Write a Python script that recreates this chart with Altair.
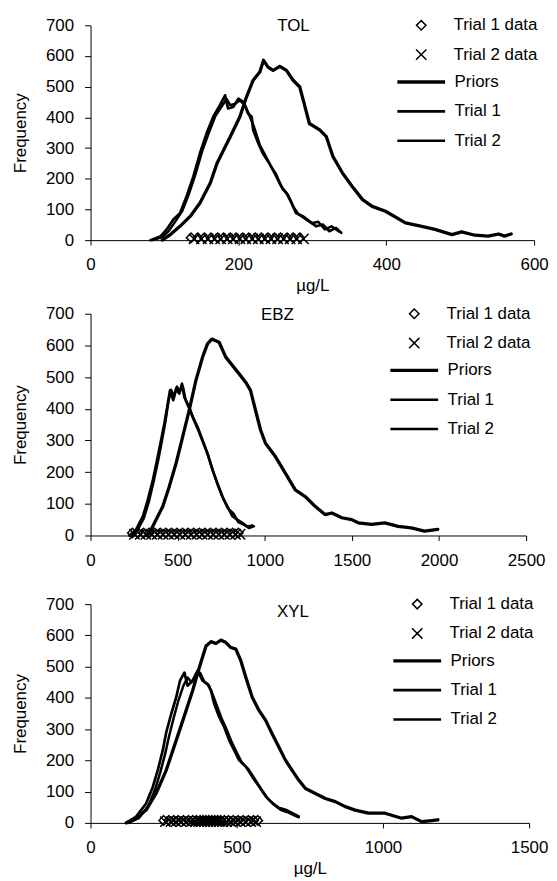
import altair as alt
import pandas as pd

FONT = "Liberation Sans"
PT_SERIES = ["Trial 1 data", "Trial 2 data"]
PT_SHAPES = ["M0,-1L1,0L0,1L-1,0Z", "M-1.1,-1.1L1.1,1.1M-1.1,1.1L1.1,-1.1"]
LN_SERIES = ["Priors", "Trial 1", "Trial 2"]
LN_WIDTHS = [3.3, 2.7, 2.5]

# ---------------- TOL ----------------
tol_prior_x = [97, 108, 121, 135, 148, 162, 171, 180, 189, 202, 211, 220, 229, 234, 240, 247, 256, 265, 274, 283,
               289, 296, 310, 319, 328, 341, 354, 368, 381, 399, 426, 448, 466, 489, 502, 520, 538, 552, 560, 569]
tol_prior_y = [0, 18, 45, 78, 121, 186, 250, 294, 337, 402, 467, 521, 548, 586, 564, 553, 566, 553, 521, 499,
               445, 380, 359, 337, 272, 218, 175, 132, 110, 94, 56, 45, 35, 18, 27, 16, 13, 20, 13, 20]
tol_t1_x = [81, 95, 103, 112, 121, 130, 139, 148, 157, 166, 175, 182, 186, 193, 200, 207, 213, 218, 220, 227,
            233, 242, 249, 258, 265, 272, 278, 287, 296, 305, 314, 323, 332, 339]
tol_t1_y = [0, 13, 35, 67, 88, 143, 207, 283, 348, 402, 440, 472, 429, 434, 461, 450, 413, 402, 359, 315,
            283, 250, 218, 175, 153, 121, 88, 78, 62, 45, 51, 29, 40, 24]
tol_t2_x = [84, 97, 106, 115, 124, 133, 142, 151, 160, 169, 178, 184, 189, 196, 202, 209, 215, 221, 229, 236,
            244, 251, 260, 267, 274, 281, 290, 299, 308, 317, 326, 336]
tol_t2_y = [0, 10, 30, 62, 95, 150, 215, 290, 350, 405, 438, 460, 440, 445, 455, 440, 405, 370, 310, 278,
            240, 215, 165, 148, 110, 85, 70, 55, 60, 35, 45, 28]
tol_d1 = [136, 145, 154, 163, 172, 180, 189, 197, 206, 214, 223, 231, 240, 249, 257, 266, 274, 283]
tol_d2 = [140, 150, 159, 168, 176, 185, 193, 202, 210, 219, 227, 236, 244, 253, 261, 270, 279, 288]

# ---------------- EBZ ----------------
ebz_prior_x = [320, 338, 376, 415, 452, 491, 529, 566, 605, 643, 671, 696, 738, 776, 814, 852, 890, 918, 947, 976,
               1004, 1061, 1118, 1175, 1232, 1289, 1346, 1385, 1442, 1499, 1536, 1613, 1689, 1765, 1841, 1917, 1993]
ebz_prior_y = [0, 8, 50, 92, 155, 228, 312, 395, 490, 563, 605, 620, 610, 563, 537, 511, 484, 458, 395, 333,
               291, 249, 197, 144, 123, 92, 66, 71, 56, 50, 40, 35, 40, 29, 24, 14, 19]
ebz_t1_x = [224, 262, 301, 329, 358, 386, 405, 424, 443, 456, 475, 491, 509, 525, 538, 563, 586, 614, 643, 671,
            700, 728, 757, 785, 814, 842, 871, 909, 937]
ebz_t1_y = [0, 19, 61, 113, 176, 249, 301, 354, 416, 458, 427, 464, 448, 479, 437, 406, 375, 343, 301, 260,
            207, 165, 123, 92, 61, 50, 40, 24, 29]
ebz_t2_x = [235, 268, 306, 334, 362, 391, 410, 430, 448, 462, 480, 496, 512, 530, 545, 570, 592, 620, 648, 676,
            705, 733, 762, 790, 820, 848, 876, 900, 928]
ebz_t2_y = [0, 15, 55, 105, 170, 245, 300, 360, 425, 460, 440, 470, 455, 470, 430, 400, 365, 330, 290, 250,
            200, 155, 115, 85, 70, 42, 35, 28, 32]
ebz_d1 = [240, 272, 304, 336, 368, 400, 432, 464, 496, 528, 560, 592, 624, 656, 688, 720, 752, 784, 816, 848]
ebz_d2 = [252, 285, 318, 350, 383, 416, 448, 480, 512, 545, 578, 610, 640, 672, 705, 736, 768, 800, 832, 858]

# ---------------- XYL ----------------
xyl_prior_x = [122, 156, 190, 224, 259, 293, 327, 349, 372, 395, 412, 429, 446, 463, 480, 497, 514, 531, 553, 576,
               599, 621, 644, 667, 689, 712, 735, 769, 803, 837, 871, 905, 950, 1007, 1064, 1098, 1132, 1166, 1188]
xyl_prior_y = [0, 15, 41, 94, 169, 264, 360, 423, 497, 566, 580, 574, 585, 577, 561, 556, 519, 466, 402, 360,
               328, 285, 243, 200, 169, 137, 110, 94, 78, 68, 52, 41, 31, 31, 15, 20, 4, 7, 10]
xyl_t1_x = [122, 156, 190, 213, 230, 247, 259, 276, 293, 306, 321, 332, 349, 366, 383, 400, 412, 423, 440, 457,
            474, 491, 508, 531, 553, 576, 599, 621, 644, 667, 689, 712]
xyl_t1_y = [0, 20, 62, 115, 169, 232, 290, 349, 402, 455, 481, 439, 455, 487, 455, 445, 423, 381, 339, 307,
            265, 233, 201, 180, 148, 117, 85, 64, 48, 42, 32, 21]
xyl_t2_x = [130, 165, 198, 220, 238, 255, 268, 284, 300, 318, 332, 345, 360, 375, 390, 405, 418, 432, 448, 465,
            482, 500, 518, 540, 562, 584, 606, 628, 650, 672, 695, 712]
xyl_t2_y = [0, 15, 55, 105, 160, 220, 275, 335, 390, 440, 465, 450, 470, 480, 450, 440, 410, 375, 335, 300,
            260, 225, 192, 172, 140, 108, 78, 58, 42, 35, 25, 18]
xyl_d1 = [250, 268, 285, 300, 318, 335, 350, 362, 375, 385, 395, 405, 415, 425, 435, 445, 458, 472, 488, 505,
          522, 540, 558, 572]
xyl_d2 = [256, 275, 292, 310, 328, 345, 358, 370, 380, 390, 400, 410, 420, 430, 440, 452, 465, 480, 495, 512,
          530, 548, 565]

DATA_Y1 = 8
DATA_Y2 = 4


def lines_frame(px, py, t1x, t1y, t2x, t2y):
    rows = []
    for name, xs, ys in (("Priors", px, py), ("Trial 1", t1x, t1y), ("Trial 2", t2x, t2y)):
        for i, (a, b) in enumerate(zip(xs, ys)):
            rows.append({"x": a, "y": b, "series": name, "order": i})
    return pd.DataFrame(rows)


def points_frame(d1, d2):
    rows = [{"x": a, "y": DATA_Y1, "series": "Trial 1 data"} for a in d1]
    rows += [{"x": a, "y": DATA_Y2, "series": "Trial 2 data"} for a in d2]
    return pd.DataFrame(rows)


def legend_params(legx, legy, size, offset, **kw):
    return alt.Legend(
        title=None, orient="none", legendX=legx, legendY=legy,
        symbolSize=size, labelFont=FONT, labelFontSize=17, labelColor="black",
        labelOffset=offset, rowPadding=11.5, padding=0,
        symbolStrokeColor="black", symbolFillColor="transparent", **kw
    )


def panel(name, ldf, pdf, xmax, xstep, w, h, xtitle, tdx, toff, legx):
    xs = alt.Scale(domain=[0, xmax], nice=False)
    ys = alt.Scale(domain=[0, 700], nice=False)
    xaxis = alt.Axis(values=list(range(0, xmax + 1, xstep)), title=xtitle, tickSize=5, format="d",
                     labelPadding=12, titlePadding=5, labelFlush=False, labelOverlap=False)
    yaxis = alt.Axis(values=list(range(0, 701, 100)), title="Frequency", tickSize=6, format="d",
                     labelPadding=11, titlePadding=16, labelOverlap=False)
    lines = alt.Chart(ldf).mark_line(color="black", strokeJoin="round", strokeCap="round").encode(
        x=alt.X("x:Q", scale=xs, axis=xaxis),
        y=alt.Y("y:Q", scale=ys, axis=yaxis),
        order="order:Q",
        strokeWidth=alt.StrokeWidth(
            "series:N", scale=alt.Scale(type="ordinal", domain=LN_SERIES, range=LN_WIDTHS),
            legend=legend_params(legx, 48.5, 64, 25, symbolType="M-6,0H6")),
    )
    pts = alt.Chart(pdf).mark_point(filled=False, color="black", size=90, strokeWidth=1.5, opacity=1).encode(
        x=alt.X("x:Q", scale=xs, axis=xaxis),
        y=alt.Y("y:Q", scale=ys, axis=yaxis),
        shape=alt.Shape("series:N", scale=alt.Scale(domain=PT_SERIES, range=PT_SHAPES),
                        legend=legend_params(legx, -8.5, 90, 24, symbolStrokeWidth=1.5)),
    )
    return alt.layer(lines, pts).properties(
        width=w, height=h,
        title=alt.TitleParams(name, anchor="middle", dx=tdx, offset=toff, font=FONT,
                              fontSize=17, fontWeight="normal", color="black"),
    )


p1 = panel("TOL", lines_frame(tol_prior_x, tol_prior_y, tol_t1_x, tol_t1_y, tol_t2_x, tol_t2_y),
           points_frame(tol_d1, tol_d2), 600, 200, 446, 216, "µg/L", -19, -19, 324)
p2 = panel("EBZ", lines_frame(ebz_prior_x, ebz_prior_y, ebz_t1_x, ebz_t1_y, ebz_t2_x, ebz_t2_y),
           points_frame(ebz_d1, ebz_d2), 2500, 500, 438, 223, None, -31, -19, 317)
p3 = panel("XYL", lines_frame(xyl_prior_x, xyl_prior_y, xyl_t1_x, xyl_t1_y, xyl_t2_x, xyl_t2_y),
           points_frame(xyl_d1, xyl_d2), 1500, 500, 441, 220, "µg/L", -17, -26, 320)


def indep(c):
    return c.resolve_scale(x="independent", y="independent", shape="independent",
                           strokeWidth="independent").resolve_legend(shape="independent",
                                                                     strokeWidth="independent")


top = indep(alt.vconcat(p1, p2, spacing=11))
chart = indep(alt.vconcat(top, p3, spacing=27)).properties(
    padding={"left": 3, "top": 6, "right": 0, "bottom": 0}
).configure_axis(
    labelFont=FONT, labelFontSize=17, labelColor="black",
    titleFont=FONT, titleFontSize=17, titleFontWeight="normal", titleColor="black",
    domainColor="black", tickColor="black", grid=False,
).configure_view(stroke=None)

chart.save("out.html", embed_options={"renderer": "svg", "actions": False})
